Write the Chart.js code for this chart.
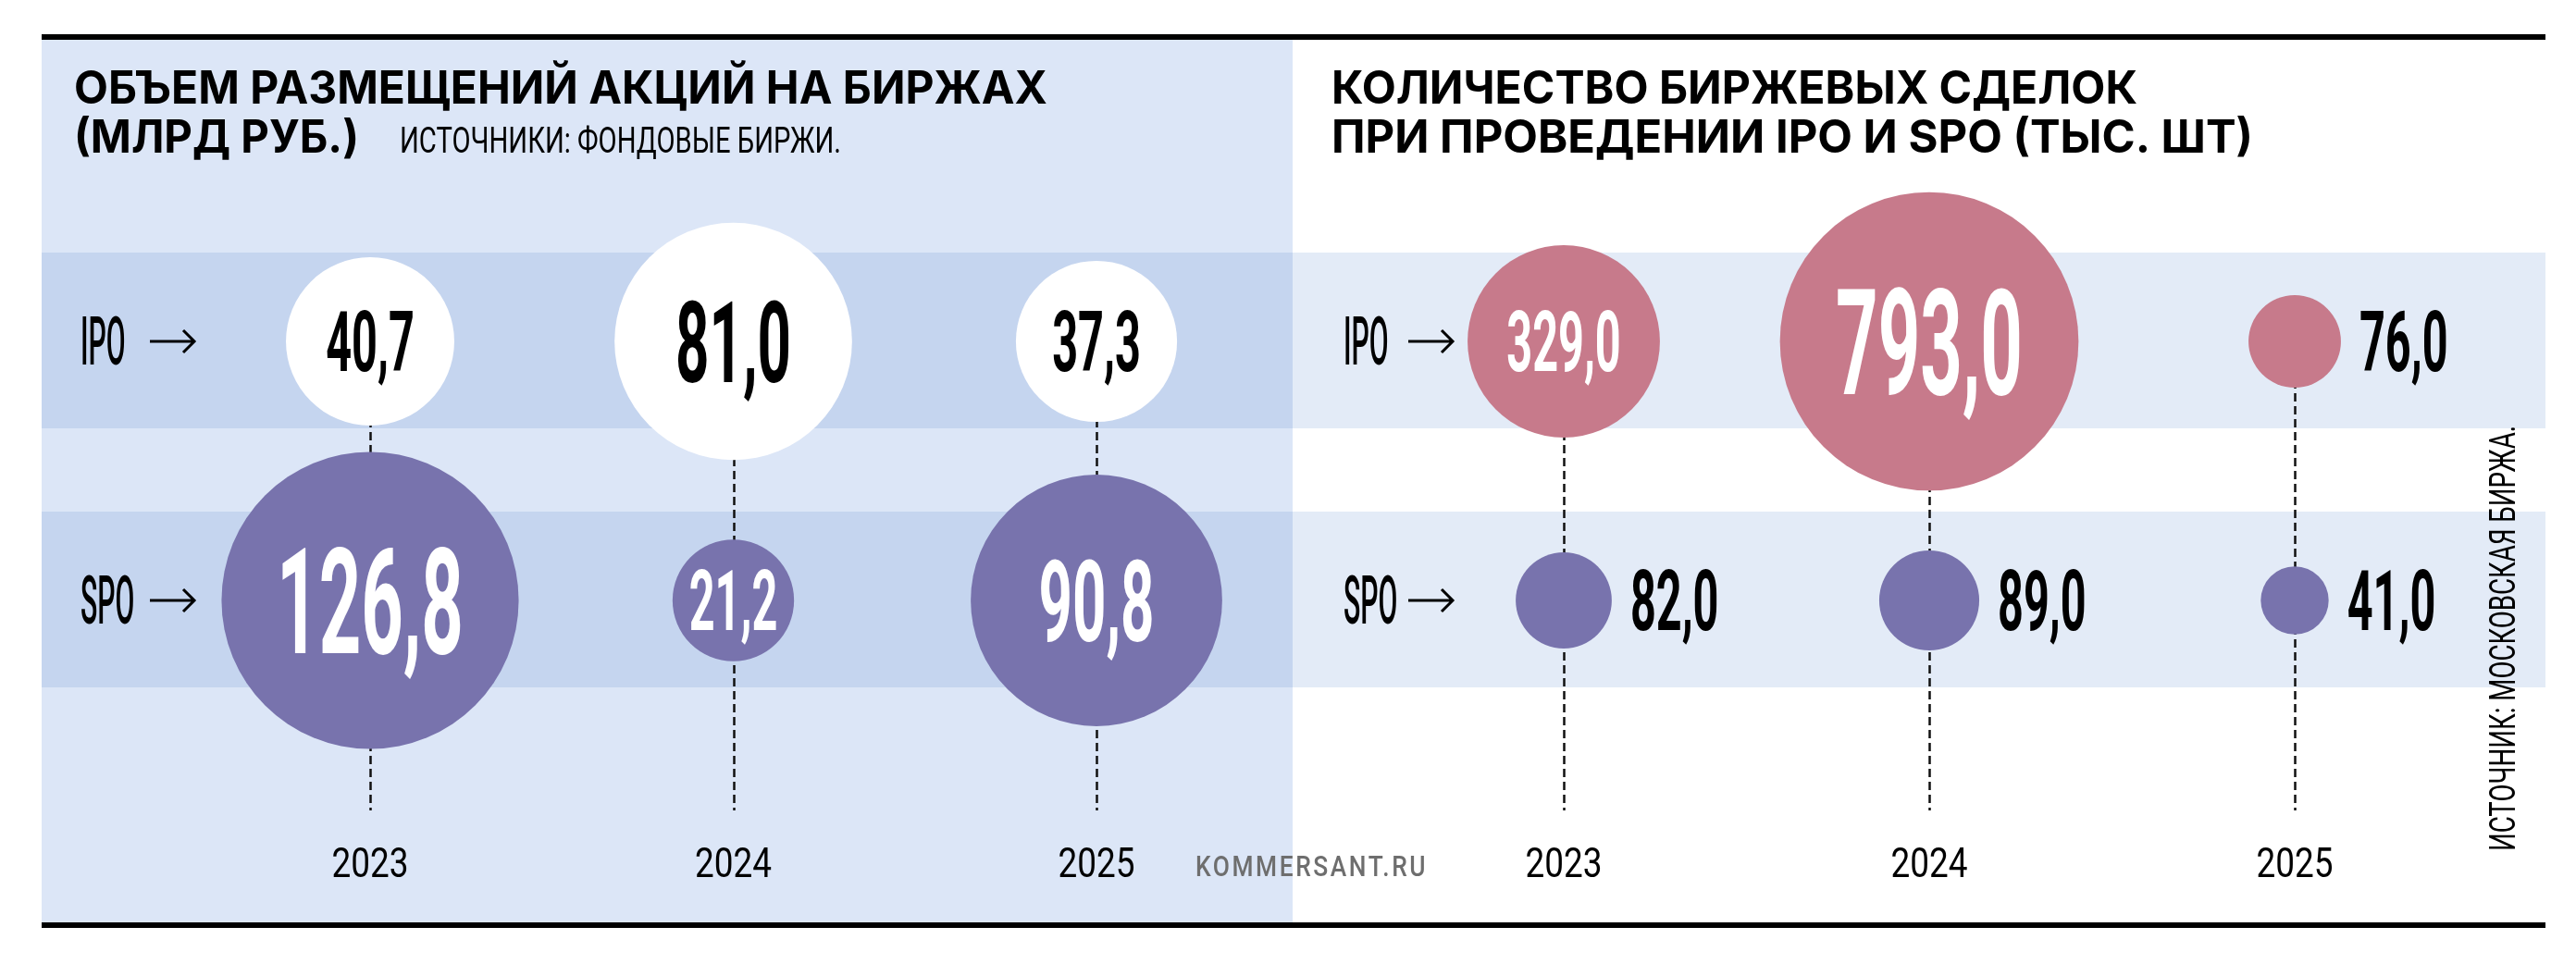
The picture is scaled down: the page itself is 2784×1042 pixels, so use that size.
<!DOCTYPE html>
<html>
<head>
<meta charset="utf-8">
<script src="https://cdn.jsdelivr.net/npm/chart.js@4.4.1/dist/chart.umd.min.js"></script>
<style>
  body { margin: 0; background: #fff; width: 2784px; height: 1042px; overflow: hidden; position: relative; }
  canvas { position: absolute; top: 0; }
  #left { left: 45px; width: 1352px; height: 1042px; }
  #right { left: 1397px; width: 1354px; height: 1042px; }
  .rule { position: absolute; left: 45px; width: 2706px; height: 6px; background: #000; }
  #site { position: absolute; left: 1292px; top: 921px; font: 500 31px Roboto; line-height: 31px;
          letter-spacing: 3px; color: #6e6e6e; white-space: nowrap;
          transform: scaleX(0.85); transform-origin: left top; }
</style>
</head>
<body>
<canvas id="left" width="1352" height="1042"></canvas>
<canvas id="right" width="1354" height="1042"></canvas>
<div class="rule" style="top:37px"></div>
<div class="rule" style="top:997px"></div>
<div id="site">KOMMERSANT.RU</div>
<script>
// data
const years = [2023, 2024, 2025];
const rowNames = ['IPO', 'SPO'];
const volumeIpo = [40.7, 81.0, 37.3];    // млрд руб.
const volumeSpo = [126.8, 21.2, 90.8];
const dealsIpo = [329.0, 793.0, 76.0];   // тыс. шт
const dealsSpo = [82.0, 89.0, 41.0];

const PURPLE = '#7873ad';
const PINK = '#c77a8b';
const WHITE = '#ffffff';

const fmt = v => v.toFixed(1).replace('.', ',');

// draw text squeezed horizontally by sx
function txt(ctx, s, x, y, font, color, sx, align) {
  ctx.save();
  ctx.font = font;
  ctx.fillStyle = color;
  ctx.textBaseline = 'alphabetic';
  ctx.textAlign = 'left';
  const w = ctx.measureText(s).width * sx;
  const x0 = align === 'center' ? x - w / 2 : align === 'right' ? x - w : x;
  ctx.translate(x0, y);
  ctx.scale(sx, 1);
  ctx.fillText(s, 0, 0);
  ctx.restore();
  return w;
}

// same, but stretched to a given width
function txtFit(ctx, s, x, y, font, color, width) {
  ctx.save();
  ctx.font = font;
  const sx = width / ctx.measureText(s).width;
  ctx.restore();
  return txt(ctx, s, x, y, font, color, sx, 'left');
}

const decor = {
  id: 'decor',
  beforeDraw(chart, args, o) {
    const ctx = chart.ctx, y = chart.scales.y, W = chart.width;
    ctx.save();
    if (o.bg) {
      ctx.fillStyle = o.bg;
      ctx.fillRect(0, 43, W, 954);
    }
    ctx.fillStyle = o.band;
    [1, 0].forEach(v => {
      const p = y.getPixelForValue(v);
      ctx.fillRect(0, p - 96, W, 190);
    });
    ctx.restore();
  },
  beforeDatasetsDraw(chart) {
    // dashed stems from IPO row down to the year labels
    const ctx = chart.ctx, x = chart.scales.x, y = chart.scales.y;
    ctx.save();
    ctx.strokeStyle = '#111';
    ctx.lineWidth = 2.5;
    ctx.setLineDash([9, 5]);
    years.forEach(yr => {
      const px = Math.round(x.getPixelForValue(yr)) + 0.5;
      ctx.beginPath();
      ctx.moveTo(px, y.getPixelForValue(1));
      ctx.lineTo(px, 876);
      ctx.stroke();
    });
    ctx.restore();
  },
  afterDatasetsDraw(chart, args, o) {
    const ctx = chart.ctx, x = chart.scales.x, y = chart.scales.y;

    // values
    chart.data.datasets.forEach((ds, di) => {
      chart.getDatasetMeta(di).data.forEach((pt, i) => {
        const d = ds.data[i];
        const cap = d.r > 150 ? 113 : d.r > 110 ? 87 : 64;
        const sx = cap > 100 ? 0.5 : cap > 80 ? 0.52 : 0.54;
        const inside = d.r > 60;
        const col = inside ? (ds.backgroundColor === WHITE ? '#000' : '#fff') : '#000';
        const px = inside ? pt.x : pt.x + d.r + 20;
        txt(ctx, fmt(d.v), px, pt.y + cap / 2, `700 ${cap / 0.711}px Roboto`, col, sx,
            inside ? 'center' : 'left');
      });
    });

    // row labels with arrows
    rowNames.forEach((name, i) => {
      const py = y.getPixelForValue(1 - i);
      txt(ctx, name, o.rowX, py + 25, '500 72px Roboto', '#000', 0.42, 'left');
      ctx.save();
      ctx.strokeStyle = '#000';
      ctx.lineWidth = 3;
      ctx.beginPath();
      ctx.moveTo(o.arrowX, py);
      ctx.lineTo(o.arrowX + 47, py);
      ctx.moveTo(o.arrowX + 36, py - 12);
      ctx.lineTo(o.arrowX + 48, py);
      ctx.lineTo(o.arrowX + 36, py + 12);
      ctx.stroke();
      ctx.restore();
    });

    // years
    years.forEach(yr => {
      txt(ctx, String(yr), x.getPixelForValue(yr), 948, '400 44px Roboto', '#000', 0.84, 'center');
    });

    // titles
    o.titles.forEach(t => txtFit(ctx, t.text, t.x, t.y, t.font, '#000', t.w));

    if (o.side) {
      ctx.save();
      ctx.translate(o.side.x, o.side.y);
      ctx.rotate(-Math.PI / 2);
      txtFit(ctx, o.side.text, 0, 0, '400 39px Roboto', '#000', o.side.w);
      ctx.restore();
    }
  }
};

const bubbles = (vals, row, k) => vals.map((v, i) => ({ x: years[i], y: row, r: k * Math.sqrt(v), v }));

function makeChart(id, ipo, spo, k, ipoColor, padL, padR, deco) {
  return new Chart(document.getElementById(id), {
    type: 'bubble',
    data: {
      datasets: [
        { label: 'IPO', data: bubbles(ipo, 1, k), backgroundColor: ipoColor, borderWidth: 0, clip: false },
        { label: 'SPO', data: bubbles(spo, 0, k), backgroundColor: PURPLE, borderWidth: 0, clip: false }
      ]
    },
    options: {
      responsive: false,
      animation: false,
      events: [],
      layout: { padding: { left: padL, right: padR, top: 369, bottom: 393 } },
      scales: {
        x: { type: 'linear', min: 2023, max: 2025, display: false },
        y: { type: 'linear', min: 0, max: 1, display: false }
      },
      plugins: { legend: { display: false }, tooltip: { enabled: false }, decor: deco }
    },
    plugins: [decor]
  });
}

makeChart('left', volumeIpo, volumeSpo, 14.26, WHITE, 355, 212, {
  bg: '#dce6f7',
  band: '#c5d5ef',
  rowX: 42,
  arrowX: 117,
  titles: [
    { text: 'ОБЪЕМ РАЗМЕЩЕНИЙ АКЦИЙ НА БИРЖАХ', x: 35, y: 112, w: 1052, font: '700 49px Inter' },
    { text: '(МЛРД РУБ.)', x: 35, y: 165, w: 308, font: '700 49px Inter' },
    { text: 'ИСТОЧНИКИ: ФОНДОВЫЕ БИРЖИ.', x: 387, y: 165, w: 477, font: '400 38px Roboto' }
  ]
});

makeChart('right', dealsIpo, dealsSpo, 5.73, PINK, 293, 271, {
  band: '#e3ebf7',
  rowX: 55,
  arrowX: 125,
  titles: [
    { text: 'КОЛИЧЕСТВО БИРЖЕВЫХ СДЕЛОК', x: 42, y: 112, w: 871, font: '700 49px Inter' },
    { text: 'ПРИ ПРОВЕДЕНИИ IPO И SPO (ТЫС. ШТ)', x: 42, y: 165, w: 996, font: '700 49px Inter' }
  ],
  side: { text: 'ИСТОЧНИК: МОСКОВСКАЯ БИРЖА.', x: 1321, y: 920, w: 460 }
});
</script>
</body>
</html>
